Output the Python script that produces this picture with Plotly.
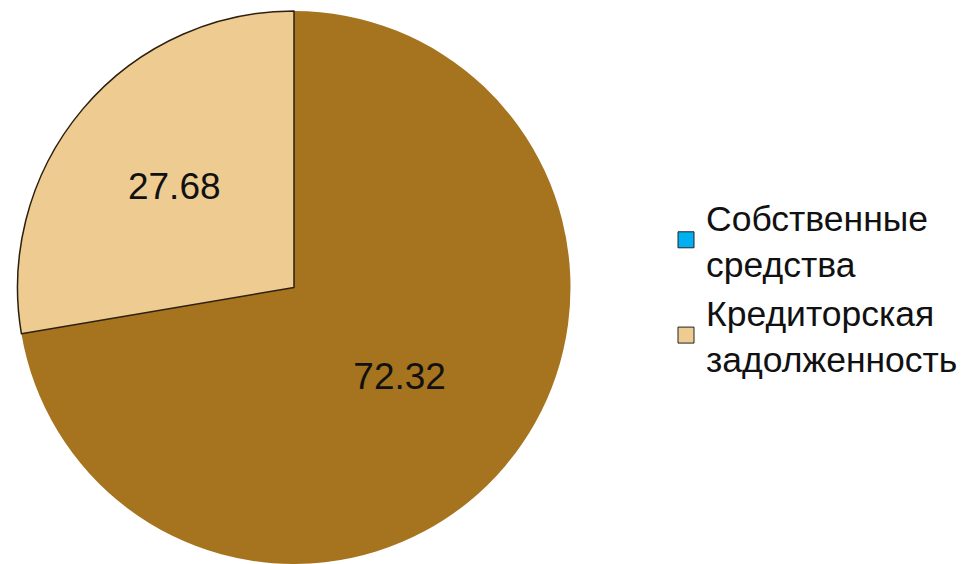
import plotly.graph_objects as go

labels = ["Собственные<br>средства", "Кредиторская<br>задолженность"]
values = [72.32, 27.68]
slice_colors = ["#A6731F", "#EECB91"]
legend_colors = ["#00B0F0", "#EECB91"]

W, H = 972, 564
fig = go.Figure()

fig.add_trace(go.Pie(
    labels=labels,
    values=values,
    sort=False,
    direction="clockwise",
    rotation=0,
    textinfo="value",
    texttemplate="%{value:.2f}",
    textposition="inside",
    insidetextorientation="horizontal",
    textfont=dict(family="Arial, Liberation Sans, sans-serif", size=37, color="#111111"),
    marker=dict(colors=slice_colors, line=dict(color="#2E2010", width=[0, 1.5])),
    showlegend=False,
    hoverinfo="label+value",
    domain=dict(x=[17.5 / W, 570.5 / W], y=[0, 1 - 11 / H]),
))

for name, col in zip(labels, legend_colors):
    fig.add_trace(go.Scatter(
        x=[None], y=[None], mode="markers", name=name,
        marker=dict(symbol="square", size=16, color=col, line=dict(color="#222222", width=1)),
    ))

fig.update_layout(
    width=W, height=H,
    margin=dict(l=0, r=0, t=0, b=0),
    paper_bgcolor="white",
    plot_bgcolor="white",
    xaxis=dict(visible=False),
    yaxis=dict(visible=False),
    legend=dict(
        x=666 / W, y=0.49, xanchor="left", yanchor="middle",
        font=dict(family="Arial, Liberation Sans, sans-serif", size=35.5, color="#111111"),
        tracegroupgap=0, bgcolor="rgba(0,0,0,0)",
    ),
)

fig.write_html("out.html")
